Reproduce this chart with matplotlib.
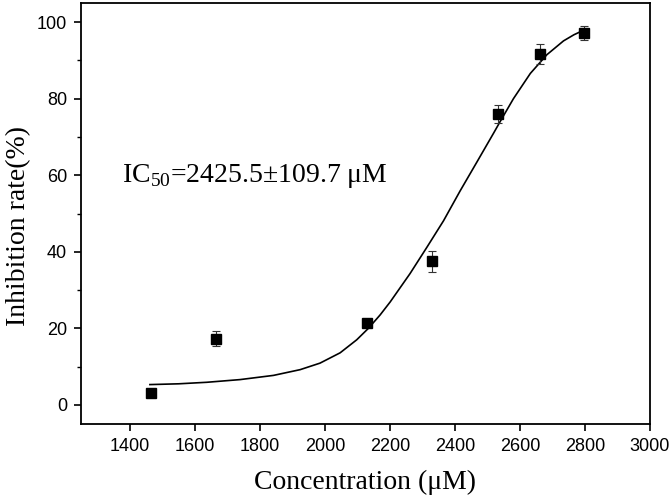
import matplotlib

matplotlib.use("Agg")
import matplotlib.pyplot as plt
from matplotlib.ticker import MultipleLocator

plt.rcParams["mathtext.fontset"] = "custom"
plt.rcParams["mathtext.rm"] = "Liberation Serif"

# measured points (concentration, inhibition %, error)
conc = [1464, 1664, 2131, 2331, 2531, 2662, 2798]
inhib = [3.2, 17.3, 21.4, 37.5, 76.0, 91.7, 97.1]
err = [0.6, 1.9, 1.1, 2.8, 2.4, 2.6, 1.8]

# fitted dose-response curve
fit_x = [1462, 1550, 1637, 1739, 1842, 1924, 1985, 2047, 2098, 2134, 2170,
         2201, 2262, 2314, 2365, 2416, 2468, 2519, 2539, 2580, 2632, 2683,
         2734, 2766, 2796]
fit_y = [5.3, 5.5, 5.9, 6.6, 7.7, 9.2, 10.9, 13.6, 17.0, 20.0, 23.5,
         26.9, 34.3, 41.2, 48.1, 55.9, 63.5, 71.0, 74.0, 80.0, 86.6, 91.5,
         95.1, 96.7, 97.9]

xticks = [1400, 1600, 1800, 2000, 2200, 2400, 2600, 2800, 3000]
yticks = [0, 20, 40, 60, 80, 100]

fig = plt.figure(figsize=(6.71, 5.00), dpi=100)
ax = fig.add_axes([0.1207, 0.152, 0.848, 0.842])

ax.plot(fit_x, fit_y, color="black", lw=1.2)
ax.errorbar(conc, inhib, yerr=err, fmt="s", color="black", ms=6.5,
            ecolor="#333333", elinewidth=0.8, capsize=3, capthick=0.8)

ax.set_xlim(1250, 3000)
ax.set_ylim(-5, 105)
ax.set_xticks(xticks)
ax.set_yticks(yticks)
ax.yaxis.set_minor_locator(MultipleLocator(10))

for side in ax.spines.values():
    side.set_linewidth(1.3)
ax.tick_params(which="major", direction="out", length=5, width=1.2,
               labelsize=13, pad=5, top=False, right=False)
ax.tick_params(which="minor", direction="out", length=3, width=1.0,
               top=False, right=False)
for lab in ax.get_xticklabels() + ax.get_yticklabels():
    lab.set_fontfamily("Liberation Sans")

ax.set_xlabel("Concentration (\u03bcM)", fontsize=20,
              fontfamily="Liberation Serif", labelpad=11)
ax.set_ylabel("Inhibition rate(%)", fontsize=20,
              fontfamily="Liberation Serif")
ax.yaxis.set_label_coords(-0.088, 0.47)

ax.text(1375, 58.2, "IC$_{50}$=2425.5\u00b1109.7 \u03bcM",
        fontsize=20, fontfamily="Liberation Serif", va="baseline")

fig.savefig("out.png", dpi=100)
